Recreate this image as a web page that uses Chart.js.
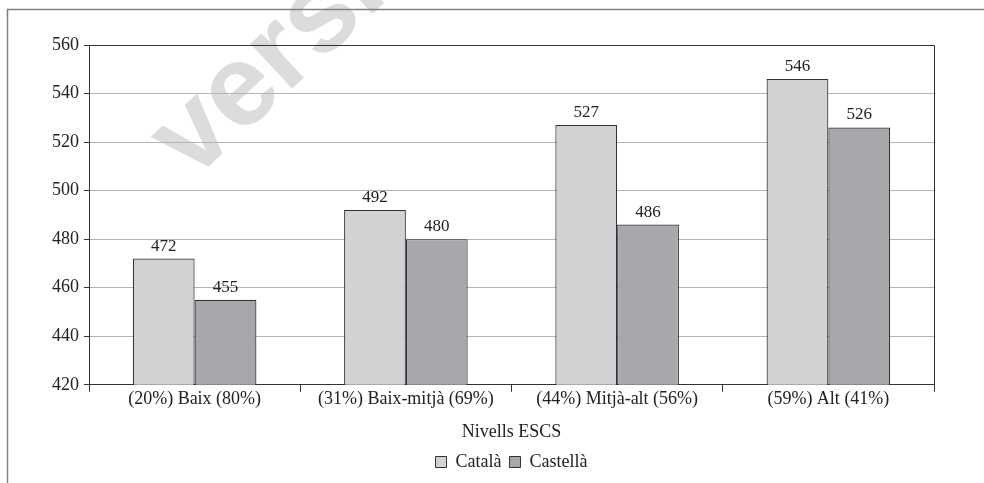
<!DOCTYPE html>
<html>
<head>
<meta charset="utf-8">
<script src="https://cdn.jsdelivr.net/npm/chart.js@4.4.1/dist/chart.umd.min.js"></script>
<style>
html,body{margin:0;padding:0;background:#fff;}
#wrap{width:984px;height:483px;position:relative;}
</style>
</head>
<body>
<div id="wrap"><canvas id="c" width="984" height="483"></canvas></div>
<script>
const categories = ["(20%) Baix (80%)", "(31%) Baix-mitjà (69%)", "(44%) Mitjà-alt (56%)", "(59%) Alt (41%)"];
const catalaValues = [472, 492, 527, 546];
const castellaValues = [455, 480, 486, 526];
const seriesNames = ["Català", "Castellà"];
const axisTitle = "Nivells ESCS";
const watermarkText = "versió";
const yMin = 420, yMax = 560, yStep = 20;

const FONT = "'Liberation Serif', 'DejaVu Serif', serif";

const framePlugin = {
  id: 'frame',
  beforeDraw(chart) {
    const ctx = chart.ctx;
    ctx.save();
    ctx.fillStyle = '#fff';
    ctx.fillRect(0, 0, chart.width, chart.height);
    // watermark
    ctx.save();
    ctx.translate(192, 182);
    ctx.rotate(-43 * Math.PI / 180);
    ctx.font = "bold 116px 'Liberation Sans', Arial, sans-serif";
    ctx.fillStyle = '#dcdcdd';
    ctx.textBaseline = 'alphabetic';
    ctx.fillText(watermarkText, 0, 0);
    ctx.restore();
    // outer frame
    ctx.strokeStyle = '#808080';
    ctx.lineWidth = 1.5;
    ctx.beginPath();
    ctx.moveTo(7.5, chart.height);
    ctx.lineTo(7.5, 9.5);
    ctx.lineTo(chart.width, 9.5);
    ctx.stroke();
    ctx.restore();
  },
  afterDatasetsDraw(chart) {
    const ctx = chart.ctx;
    const a = chart.chartArea;
    ctx.save();
    ctx.strokeStyle = '#333';
    ctx.lineWidth = 1;
    ctx.beginPath();
    ctx.moveTo(a.left, Math.round(a.top) + 0.5);
    ctx.lineTo(Math.round(a.right) + 0.5, Math.round(a.top) + 0.5);
    ctx.lineTo(Math.round(a.right) + 0.5, a.bottom);
    ctx.stroke();
    // data labels
    ctx.font = "17px " + FONT;
    ctx.fillStyle = '#222';
    ctx.textAlign = 'center';
    ctx.textBaseline = 'bottom';
    chart.data.datasets.forEach((ds, i) => {
      const meta = chart.getDatasetMeta(i);
      meta.data.forEach((bar, j) => {
        ctx.fillText(String(ds.data[j]), bar.x, bar.y - 4);
      });
    });
    ctx.restore();
  }
};

new Chart(document.getElementById('c'), {
  type: 'bar',
  data: {
    labels: categories,
    datasets: [
      { label: seriesNames[0], data: catalaValues, backgroundColor: '#d1d2d4', borderColor: '#333', borderWidth: 1.2 },
      { label: seriesNames[1], data: castellaValues, backgroundColor: '#a7a8ab', borderColor: '#333', borderWidth: 1.2 }
    ]
  },
  options: {
    responsive: false,
    animation: false,
    devicePixelRatio: 1,
    layout: { padding: { top: 45, left: 7, right: 50, bottom: 2 } },
    datasets: { bar: { barPercentage: 1.0, categoryPercentage: 0.585 } },
    scales: {
      x: {
        offset: true,
        grid: { display: true, offset: true, drawOnChartArea: false, drawTicks: true, tickLength: 7, color: '#333', lineWidth: 1 },
        border: { display: true, color: '#333', width: 1 },
        ticks: { font: { family: FONT, size: 18 }, color: '#222', padding: -3, maxRotation: 0, autoSkip: false },
        title: { display: true, text: axisTitle, font: { family: FONT, size: 18 }, color: '#222', padding: { top: 14, bottom: 2 } }
      },
      y: {
        min: yMin, max: yMax,
        afterFit(s) { s.width = 82; },
        grid: { color: '#b4b4b4', lineWidth: 1, drawTicks: true, tickLength: 5, tickColor: '#333' },
        border: { display: true, color: '#333', width: 1 },
        ticks: { stepSize: yStep, font: { family: FONT, size: 18 }, color: '#222', padding: 5 }
      }
    },
    plugins: {
      legend: {
        position: 'bottom',
        fullSize: false,
        labels: {
          font: { family: FONT, size: 18 }, color: '#222',
          boxWidth: 11, boxHeight: 11, padding: 8,
          generateLabels(chart) {
            return chart.data.datasets.map((ds, i) => ({
              text: ds.label, fillStyle: ds.backgroundColor, strokeStyle: '#333', lineWidth: 1,
              hidden: false, datasetIndex: i, fontColor: '#222'
            }));
          }
        }
      },
      tooltip: { enabled: false }
    }
  },
  plugins: [framePlugin]
});
</script>
</body>
</html>
